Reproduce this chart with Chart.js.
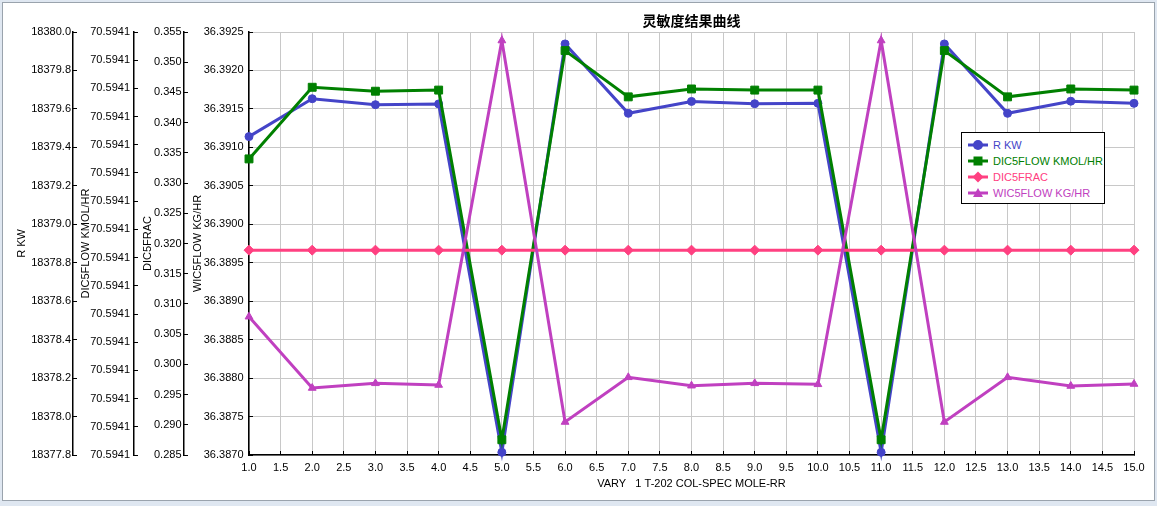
<!DOCTYPE html>
<html><head><meta charset="utf-8">
<script src="https://cdn.jsdelivr.net/npm/chart.js@4.4.0/dist/chart.umd.min.js"></script>
<style>
html,body{margin:0;padding:0;background:#dfe7f1;width:1157px;height:506px;overflow:hidden;position:relative;}
#frame{position:absolute;left:2px;top:2px;width:1151px;height:497px;border:1px solid #9aa3ad;background:#fff;}
#c{position:absolute;left:0;top:0;}
#legend{position:absolute;left:961px;top:132px;width:142px;height:70px;border:1px solid #000;background:#fff;font:11px 'Liberation Sans',Arial,sans-serif;}
.row{position:absolute;left:5px;height:16px;display:flex;align-items:center;white-space:nowrap;}
.row svg{margin-right:4px;}
</style>
</head>
<body>
<div id="frame"></div>
<canvas id="c" width="1157" height="506"></canvas>
<div id="legend"></div>
<script>
// ---- data ----
const chartTitle = '灵敏度结果曲线';
const xTitle = 'VARY   1 T-202 COL-SPEC MOLE-RR';
const xValues = [1, 2, 3, 4, 5, 6, 7, 8, 9, 10, 11, 12, 13, 14, 15];
const seriesNames = ['R KW', 'DIC5FLOW KMOL/HR', 'DIC5FRAC', 'WIC5FLOW KG/HR'];
const rKW = [18379.456, 18379.653, 18379.622, 18379.626, 18377.814, 18379.938, 18379.577, 18379.639, 18379.627, 18379.629, 18377.814, 18379.938, 18379.577, 18379.640, 18379.629];
const dic5Flow = [70.5941125, 70.5941252, 70.5941245, 70.5941247, 70.5940627, 70.5941317, 70.5941235, 70.5941249, 70.5941247, 70.5941247, 70.5940627, 70.5941317, 70.5941235, 70.5941249, 70.5941247];
const dic5Frac = [0.3189, 0.3189, 0.3189, 0.3189, 0.3189, 0.3189, 0.3189, 0.3189, 0.3189, 0.3189, 0.3189, 0.3189, 0.3189, 0.3189, 0.3189];
const wic5Flow = [36.388798, 36.387871, 36.387932, 36.387910, 36.392389, 36.387429, 36.388010, 36.387901, 36.387932, 36.387919, 36.392389, 36.387429, 36.388010, 36.387897, 36.387923];
// axis ranges
const xRange = {min: 1, max: 15, step: 0.5};
const rRange = {min: 18377.8, max: 18380.0, step: 0.2};
const dRange = {min: 70.59406, max: 70.594135, step: 0.000005};
const fRange = {min: 0.285, max: 0.355, step: 0.005};
const wRange = {min: 36.3870, max: 36.3925, step: 0.0005};

const colors = ['#4444c8', '#008000', '#ff4081', '#c040c0'];
const shapes = ['circle', 'rect', 'rectRot', 'triangle'];
const radii = [4, 5.6, 5, 4.5];
const allSeries = [rKW, dic5Flow, dic5Frac, wic5Flow];
const axisIds = ['yR', 'yD', 'yF', 'yW'];

const FONT = "'Liberation Sans', Arial, sans-serif";
const TXT = '#000';

const datasets = allSeries.map((arr, i) => ({
  label: seriesNames[i],
  data: xValues.map((x, j) => ({x: x, y: arr[j]})),
  yAxisID: axisIds[i],
  borderColor: colors[i],
  backgroundColor: colors[i],
  borderWidth: 3,
  pointStyle: shapes[i],
  pointRadius: radii[i],
  pointBorderWidth: 1,
  pointBackgroundColor: colors[i],
  pointBorderColor: colors[i],
  tension: 0,
  clip: false,
  order: 4 - i
}));

function yAxis(range, title, weight, width, labPad, titlePad, decimals, onArea) {
  return {
    type: 'linear', position: 'left', weight: weight,
    min: range.min, max: range.max,
    ticks: {stepSize: range.step, color: TXT, font: {family: FONT, size: 11}, padding: labPad,
      autoSkip: false, callback: v => Number(v).toFixed(decimals)},
    grid: {drawOnChartArea: onArea, color: '#c8c8c8', lineWidth: 1, drawTicks: true, tickLength: -4, tickColor: '#000', tickWidth: 1},
    border: {display: true, color: '#000', width: 1.5},
    title: {display: true, text: title, color: TXT, font: {family: FONT, size: 11}, padding: {top: titlePad, bottom: 0}},
    afterFit: s => { s.width = width; }
  };
}

new Chart(document.getElementById('c'), {
  type: 'line',
  data: {datasets: datasets},
  options: {
    responsive: false, animation: false,
    layout: {padding: {left: 0, right: 23, top: 0, bottom: 0}},
    plugins: {
      legend: {display: false}, tooltip: {enabled: false},
      title: {display: true, text: chartTitle, fullSize: false, color: '#000',
        font: {family: "'Noto Sans CJK SC', sans-serif", size: 14, weight: 'bold', lineHeight: 1.2},
        padding: {top: 12.6, bottom: 2.6}}
    },
    scales: {
      x: {
        type: 'linear', position: 'bottom', min: xRange.min, max: xRange.max,
        ticks: {stepSize: xRange.step, color: TXT, font: {family: FONT, size: 11}, padding: 10,
          autoSkip: false, maxRotation: 0, callback: v => Number(v).toFixed(1)},
        grid: {color: '#c8c8c8', lineWidth: 1, drawTicks: true, tickLength: -4, tickColor: '#000'},
        border: {display: true, color: '#000', width: 1.5},
        title: {display: true, text: xTitle, color: TXT, font: {family: FONT, size: 11}, padding: {top: 0, bottom: 15.4}},
        afterFit: s => { s.height = 51; }
      },
      yR: yAxis(rRange, seriesNames[0], 4, 73, 6, 15.4, 1, false),
      yD: yAxis(dRange, seriesNames[1], 3, 61, 8, 5.9, 4, false),
      yF: yAxis(fRange, seriesNames[2], 2, 50, 6.5, 6.9, 3, false),
      yW: yAxis(wRange, seriesNames[3], 1, 65, 9.5, 6.9, 4, true)
    }
  }
});

// HTML legend
const shapeSvg = [
  c => `<circle cx="11" cy="6" r="5" fill="${c}"/>`,
  c => `<rect x="6.5" y="1.5" width="9" height="9" fill="${c}"/>`,
  c => `<polygon points="11,0.5 16.5,6 11,11.5 5.5,6" fill="${c}"/>`,
  c => `<polygon points="11,1 16,10 6,10" fill="${c}"/>`
];
const legend = document.getElementById('legend');
seriesNames.forEach((name, i) => {
  const row = document.createElement('div');
  row.className = 'row';
  row.style.top = (4 + i * 16) + 'px';
  row.style.color = colors[i];
  row.innerHTML = `<svg width="22" height="12"><line x1="1" y1="6" x2="21" y2="6" stroke="${colors[i]}" stroke-width="3"/>${shapeSvg[i](colors[i])}</svg><span>${name}</span>`;
  legend.appendChild(row);
});
</script>
</body></html>
